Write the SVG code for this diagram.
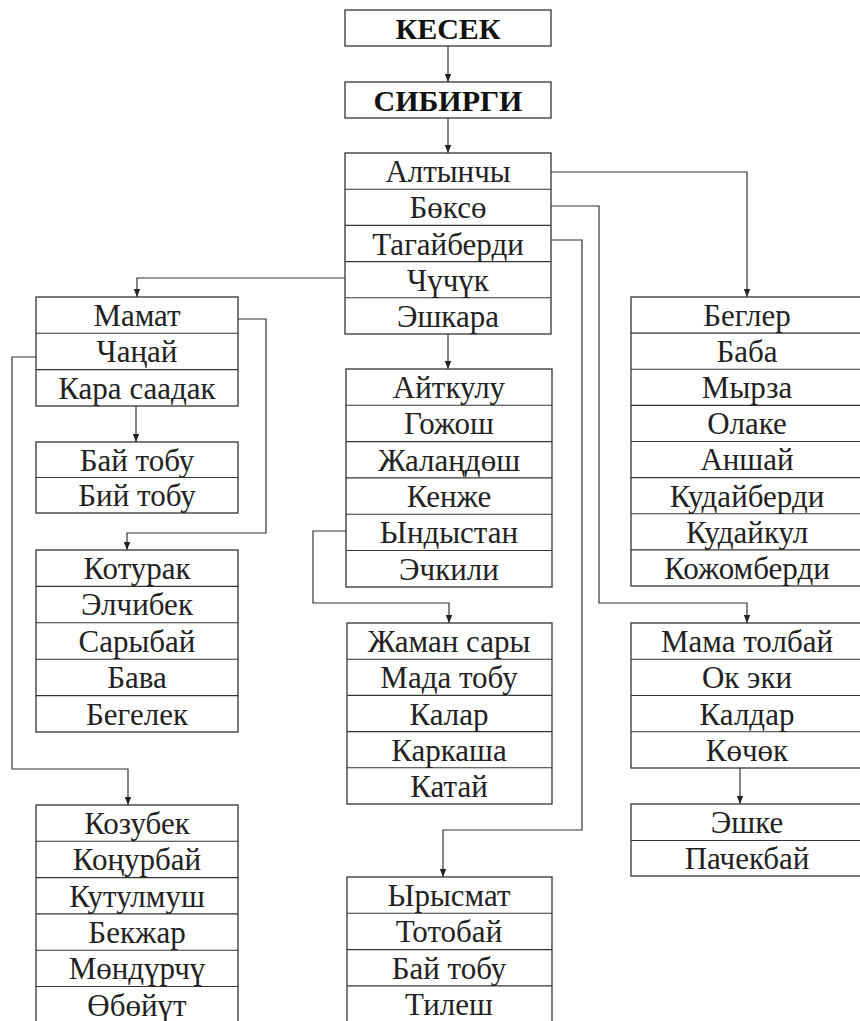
<svg xmlns="http://www.w3.org/2000/svg" width="860" height="1021" viewBox="0 0 860 1021" font-family="'Liberation Serif', 'Times New Roman', 'DejaVu Serif', serif">
<defs>
<style>
.box{fill:none;stroke:#333;stroke-width:1.3}
.div{stroke:#333;stroke-width:1.1}
text{font-family:'Liberation Serif','Times New Roman','DejaVu Serif',serif}
.t{font-size:31px;fill:#222;text-anchor:middle}
.b{font-weight:bold;font-size:30px;fill:#111}
.c{fill:none;stroke:#333;stroke-width:1.2}
</style>
<marker id="ar" viewBox="0 0 10 10" refX="10" refY="5" markerWidth="8" markerHeight="8" markerUnits="userSpaceOnUse" orient="auto">
<path d="M0,1 L10,5 L0,9 Z" fill="#222"/>
</marker>
</defs>
<rect width="860" height="1021" fill="#fff"/>

<g id="connectors">
<path class="c" d="M448,46 V82" marker-end="url(#ar)"/>
<path class="c" d="M448,118 V153" marker-end="url(#ar)"/>
<path class="c" d="M551,172 H747 V297" marker-end="url(#ar)"/>
<path class="c" d="M551,206 H599 V603 H747 V623" marker-end="url(#ar)"/>
<path class="c" d="M551,240 H582 V830 H443 V877" marker-end="url(#ar)"/>
<path class="c" d="M345,278 H137 V297" marker-end="url(#ar)"/>
<path class="c" d="M448,334 V369" marker-end="url(#ar)"/>
<path class="c" d="M238,319 H266 V533 H127 V550" marker-end="url(#ar)"/>
<path class="c" d="M36,357 H12 V769 H128 V805" marker-end="url(#ar)"/>
<path class="c" d="M136,406 V442" marker-end="url(#ar)"/>
<path class="c" d="M346,531 H313 V603 H449 V623" marker-end="url(#ar)"/>
<path class="c" d="M740,768 V804" marker-end="url(#ar)"/>
</g>

<g id="kesek">
<rect class="box" x="345" y="10" width="206" height="36"/>
<text class="t b" x="448" y="39">КЕСЕК</text>
</g>

<g id="sibirgi">
<rect class="box" x="345" y="82" width="206" height="36"/>
<text class="t b" x="448" y="111">СИБИРГИ</text>
</g>

<g id="main">
<rect class="box" x="345" y="153" width="206" height="181"/>
<line class="div" x1="345" y1="189.2" x2="551" y2="189.2"/>
<line class="div" x1="345" y1="225.4" x2="551" y2="225.4"/>
<line class="div" x1="345" y1="261.6" x2="551" y2="261.6"/>
<line class="div" x1="345" y1="297.8" x2="551" y2="297.8"/>
<text class="t" x="448" y="182">Алтынчы</text>
<text class="t" x="448" y="218">Бөксө</text>
<text class="t" x="448" y="255">Тагайберди</text>
<text class="t" x="448" y="291">Чүчүк</text>
<text class="t" x="448" y="327">Эшкара</text>
</g>

<g id="mamat">
<rect class="box" x="36" y="297" width="202" height="109"/>
<line class="div" x1="36" y1="333.3" x2="238" y2="333.3"/>
<line class="div" x1="36" y1="369.6" x2="238" y2="369.6"/>
<text class="t" x="137" y="326">Мамат</text>
<text class="t" x="137" y="362">Чаңай</text>
<text class="t" x="137" y="399">Кара саадак</text>
</g>

<g id="baitobu">
<rect class="box" x="36" y="442" width="202" height="71"/>
<line class="div" x1="36" y1="477.5" x2="238" y2="477.5"/>
<text class="t" x="137" y="471">Бай тобу</text>
<text class="t" x="137" y="506">Бий тобу</text>
</g>

<g id="koturak">
<rect class="box" x="36" y="550" width="202" height="182"/>
<line class="div" x1="36" y1="586.4" x2="238" y2="586.4"/>
<line class="div" x1="36" y1="622.8" x2="238" y2="622.8"/>
<line class="div" x1="36" y1="659.2" x2="238" y2="659.2"/>
<line class="div" x1="36" y1="695.6" x2="238" y2="695.6"/>
<text class="t" x="137" y="579">Котурак</text>
<text class="t" x="137" y="615">Элчибек</text>
<text class="t" x="137" y="652">Сарыбай</text>
<text class="t" x="137" y="688">Бава</text>
<text class="t" x="137" y="725">Бегелек</text>
</g>

<g id="kozubek">
<rect class="box" x="36" y="805" width="202" height="220"/>
<line class="div" x1="36" y1="841.3" x2="238" y2="841.3"/>
<line class="div" x1="36" y1="877.6" x2="238" y2="877.6"/>
<line class="div" x1="36" y1="913.9" x2="238" y2="913.9"/>
<line class="div" x1="36" y1="950.2" x2="238" y2="950.2"/>
<line class="div" x1="36" y1="986.5" x2="238" y2="986.5"/>
<text class="t" x="137" y="834">Козубек</text>
<text class="t" x="137" y="870">Коңурбай</text>
<text class="t" x="137" y="907">Кутулмуш</text>
<text class="t" x="137" y="943">Бекжар</text>
<text class="t" x="137" y="979">Мөндүрчү</text>
<text class="t" x="137" y="1016">Өбөйүт</text>
</g>

<g id="aitkulu">
<rect class="box" x="346" y="369" width="206" height="218"/>
<line class="div" x1="346" y1="405.3" x2="552" y2="405.3"/>
<line class="div" x1="346" y1="441.6" x2="552" y2="441.6"/>
<line class="div" x1="346" y1="477.9" x2="552" y2="477.9"/>
<line class="div" x1="346" y1="514.2" x2="552" y2="514.2"/>
<line class="div" x1="346" y1="550.5" x2="552" y2="550.5"/>
<text class="t" x="449" y="398">Айткулу</text>
<text class="t" x="449" y="434">Гожош</text>
<text class="t" x="449" y="471">Жалаңдөш</text>
<text class="t" x="449" y="507">Кенже</text>
<text class="t" x="449" y="543">Ындыстан</text>
<text class="t" x="449" y="580">Эчкили</text>
</g>

<g id="jamansary">
<rect class="box" x="347" y="623" width="205" height="181"/>
<line class="div" x1="347" y1="659.2" x2="552" y2="659.2"/>
<line class="div" x1="347" y1="695.4" x2="552" y2="695.4"/>
<line class="div" x1="347" y1="731.6" x2="552" y2="731.6"/>
<line class="div" x1="347" y1="767.8" x2="552" y2="767.8"/>
<text class="t" x="449" y="652">Жаман сары</text>
<text class="t" x="449" y="688">Мада тобу</text>
<text class="t" x="449" y="725">Калар</text>
<text class="t" x="449" y="761">Каркаша</text>
<text class="t" x="449" y="797">Катай</text>
</g>

<g id="yrysmat">
<rect class="box" x="347" y="877" width="205" height="150"/>
<line class="div" x1="347" y1="913.3" x2="552" y2="913.3"/>
<line class="div" x1="347" y1="949.6" x2="552" y2="949.6"/>
<line class="div" x1="347" y1="985.9" x2="552" y2="985.9"/>
<text class="t" x="449" y="906">Ырысмат</text>
<text class="t" x="449" y="942">Тотобай</text>
<text class="t" x="449" y="979">Бай тобу</text>
<text class="t" x="449" y="1015">Тилеш</text>
</g>

<g id="begler">
<rect class="box" x="631" y="297" width="232" height="289"/>
<line class="div" x1="631" y1="333.1" x2="863" y2="333.1"/>
<line class="div" x1="631" y1="369.2" x2="863" y2="369.2"/>
<line class="div" x1="631" y1="405.4" x2="863" y2="405.4"/>
<line class="div" x1="631" y1="441.5" x2="863" y2="441.5"/>
<line class="div" x1="631" y1="477.6" x2="863" y2="477.6"/>
<line class="div" x1="631" y1="513.8" x2="863" y2="513.8"/>
<line class="div" x1="631" y1="549.9" x2="863" y2="549.9"/>
<text class="t" x="747" y="326">Беглер</text>
<text class="t" x="747" y="362">Баба</text>
<text class="t" x="747" y="398">Мырза</text>
<text class="t" x="747" y="434">Олаке</text>
<text class="t" x="747" y="470">Аншай</text>
<text class="t" x="747" y="507">Кудайберди</text>
<text class="t" x="747" y="543">Кудайкул</text>
<text class="t" x="747" y="579">Кожомберди</text>
</g>

<g id="mamatolbai">
<rect class="box" x="631" y="623" width="232" height="145"/>
<line class="div" x1="631" y1="659.2" x2="863" y2="659.2"/>
<line class="div" x1="631" y1="695.5" x2="863" y2="695.5"/>
<line class="div" x1="631" y1="731.8" x2="863" y2="731.8"/>
<text class="t" x="747" y="652">Мама толбай</text>
<text class="t" x="747" y="688">Ок эки</text>
<text class="t" x="747" y="725">Калдар</text>
<text class="t" x="747" y="761">Көчөк</text>
</g>

<g id="eshke">
<rect class="box" x="631" y="804" width="232" height="72"/>
<line class="div" x1="631" y1="840.5" x2="863" y2="840.5"/>
<text class="t" x="747" y="833">Эшке</text>
<text class="t" x="747" y="869">Пачекбай</text>
</g>
</svg>
